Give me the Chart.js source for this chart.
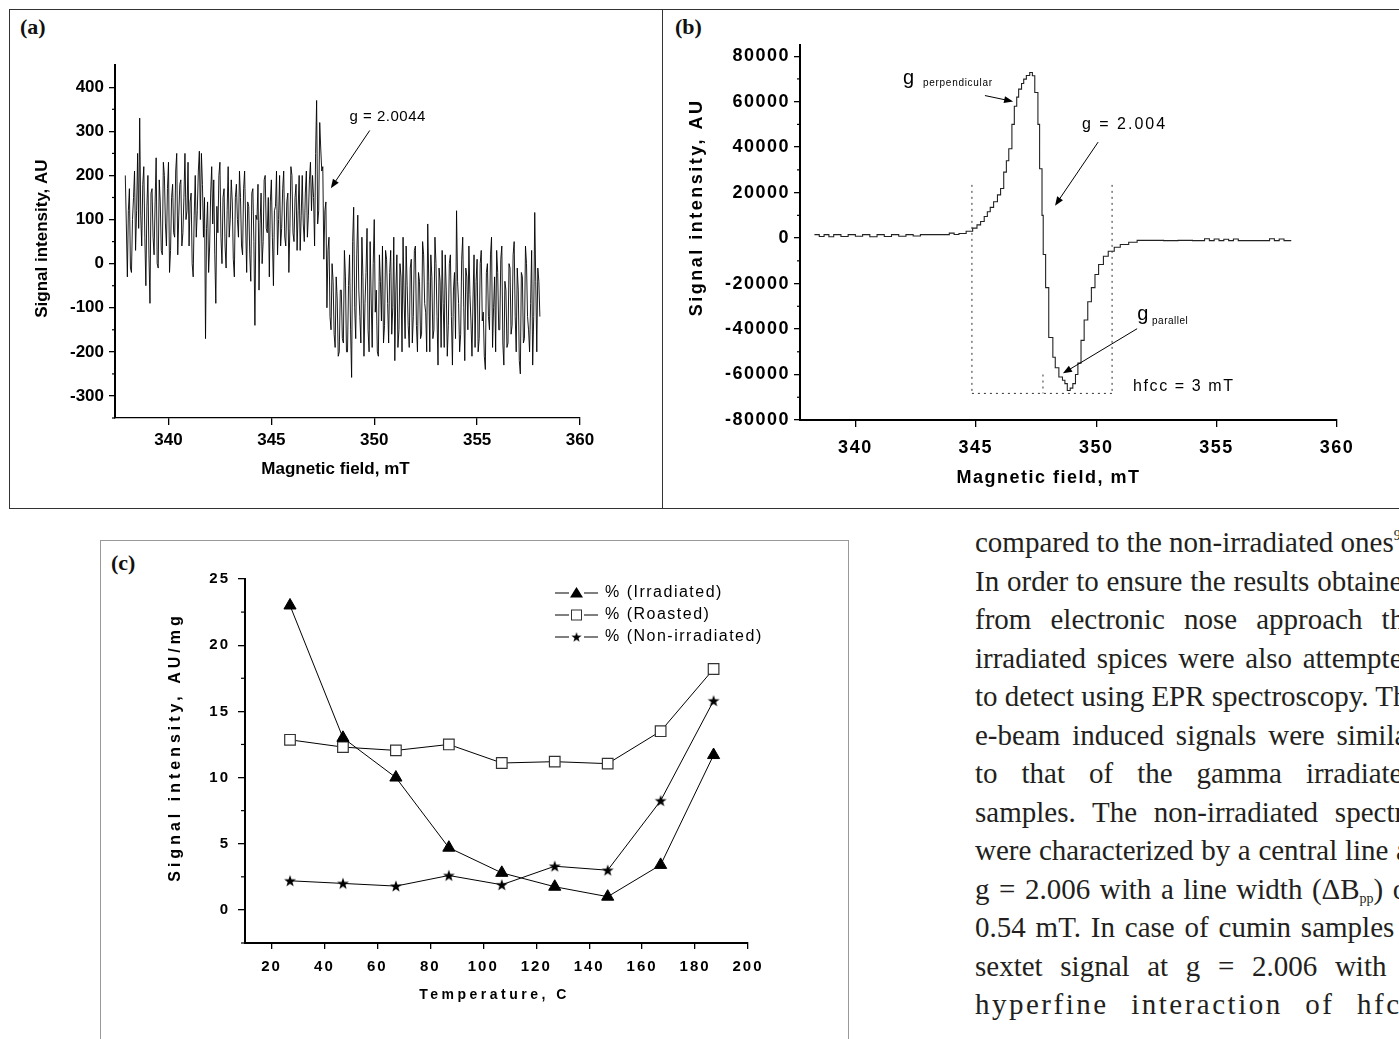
<!DOCTYPE html>
<html>
<head>
<meta charset="utf-8">
<title>EPR spectra and signal intensity</title>
<script src="https://cdn.jsdelivr.net/npm/chart.js"></script>
<style>
  html, body { margin: 0; padding: 0; background: #fff; width: 1399px; height: 1039px; overflow: hidden; }
  .frame { position: absolute; box-sizing: border-box; }
  #topFrame { left: 9px; top: 9px; width: 1400px; height: 500px; border: 1px solid #333; }
  #divider { left: 662px; top: 9px; width: 1px; height: 500px; background: #333; }
  #boxC { left: 100px; top: 540px; width: 749px; height: 540px; border: 1px solid #999; }
  .tag { position: absolute; font-family: 'Liberation Serif', serif; font-weight: bold; font-size: 22px; color: #111; }
  canvas { position: absolute; }
  #chartA { left: 20px; top: 50px; }
  #chartB { left: 670px; top: 30px; }
  #chartC { left: 105px; top: 555px; }
  #text { position: absolute; left: 975px; top: 523px; width: 442px;
          font-family: 'Liberation Serif', serif; font-size: 29px; line-height: 38.5px; color: #231f20; }
  #text div { white-space: nowrap; text-align: justify; text-align-last: justify; }
  #text div.first { text-align-last: left; }
  #text div.spaced { letter-spacing: 2.5px; }
  #text sup { font-size: 14px; vertical-align: 12px; line-height: 0; }
  #text sub { font-size: 14px; vertical-align: -4px; line-height: 0; }
</style>
</head>
<body>
<div class="frame" id="topFrame"></div>
<div class="frame" id="divider"></div>
<div class="frame" id="boxC"></div>
<div class="tag" style="left:20px; top:14px;">(a)</div>
<div class="tag" style="left:675px; top:14px;">(b)</div>
<div class="tag" style="left:111px; top:550px;">(c)</div>

<canvas id="chartA" width="620" height="450"></canvas>
<canvas id="chartB" width="720" height="470"></canvas>
<canvas id="chartC" width="735" height="470"></canvas>

<div id="text">
  <div class="first">compared to the non-irradiated ones<sup>9</sup>.</div>
  <div>In order to ensure the results obtained</div>
  <div>from electronic nose approach the</div>
  <div>irradiated spices were also attempted</div>
  <div>to detect using EPR spectroscopy. The</div>
  <div>e-beam induced signals were similar</div>
  <div>to that of the gamma irradiated</div>
  <div>samples. The non-irradiated spectra</div>
  <div>were characterized by a central line at</div>
  <div>g = 2.006 with a line width (&Delta;B<sub>pp</sub>) of</div>
  <div>0.54 mT. In case of cumin samples a</div>
  <div>sextet signal at g = 2.006 with a</div>
  <div class="spaced">hyperfine interaction of hfcc</div>
</div>

<script>
// ---- (a) EPR spectrum, sampled every 0.05 mT from 337.9 mT
const fieldStartA = 337.9;
const fieldStepA = 0.05;
const signalA = [
  200, 90, -30, 120, 170, -10, -20, 100, 150, 210, 30, 120, 250, 80, 330, 110, 40, 180, 220, 60,
  -50, 130, 200, 20, -90, 160, 170, 60, 20, 140, 240, 0, -10, 190, 140, 30, 20, 230, 200, 90,
  40, 170, 230, -20, 30, 150, 180, 70, 60, 210, 250, 20, 110, 180, 190, 40, 70, 150, 250, 100,
  120, 230, 40, 140, 160, 0, -30, 110, 200, 60, 120, 210, 255, 100, 250, 180, 60, 150, -170, 80,
  140, -20, 40, 160, 220, 90, 190, 20, -90, 130, 70, 200, 230, 60, 0, 150, 170, 40, -10, 120,
  220, 60, 100, 190, 140, 10, -30, 150, 180, 100, 60, 210, 150, 40, 20, 170, 210, 90, -20, 140,
  130, 20, -40, 160, 170, 50, -140, 110, 100, 180, -60, 90, 160, 0, 50, 190, 200, 80, 70, 150,
  -30, 140, 190, 60, -50, 120, 130, 210, 20, 100, 200, 40, 80, 170, 210, 60, 40, 140, 160, -20,
  80, 220, 200, 70, 50, 150, 180, 30, 120, 200, 30, 110, 200, 90, 50, 160, 210, 60, 110, 190,
  230, 120, 200, 150, 40, 250, 370, 90, 120, 320, 260, 210, 220, 10, 120, 140, -100, 30, 60, -120,
  -150, 0, -40, -160, -190, -30, -80, -210, -200, -60, -60, -170, -180, 30, -30, -200, -200, -50, 20, -150,
  -258, 50, 128, -100, -170, 20, 110, -60, -120, -180, 60, -30, -210, -90, -20, 80, -150, -200, 50, -80,
  -190, 0, 100, -110, -60, -200, -210, 20, -40, -130, 40, -180, -140, 30, 10, -90, -180, -20, 30, -160,
  -100, 60, -220, -60, 20, -190, -150, 0, -30, -200, 60, -80, -170, 40, -50, -140, -190, -10, 10, -180,
  -120, 30, 40, -140, -200, -20, -40, -170, -160, 50, 20, -90, -110, -200, 90, -40, -200, 20, -30, -170,
  -150, 60, 0, -120, -230, -10, -40, -190, 30, -90, -190, 20, -60, -210, -140, 0, 20, -120, -230, -60,
  -20, -170, 120, -40, -90, -200, -160, 10, 60, -100, -220, -10, -30, -150, 40, -70, -130, -210, -80, 20,
  -190, -40, 10, -200, -170, 0, 30, -130, -110, -210, -240, -20, 0, -120, -150, 20, 60, -190, -100, -30,
  -200, 30, -20, -150, -150, 10, 40, -180, -230, -40, -60, -190, -180, 0, -10, -160, -140, 20, 50, -120,
  -200, -10, -60, -220, -250, -20, -30, -180, -170, 40, 0, -120, -150, -200, -90, 30, -230, -120, 116, -40,
  -200, -10, -40, -120
];
const xTicksA = [340, 345, 350, 355, 360];
const yTicksA = [-300, -200, -100, 0, 100, 200, 300, 400];
const yMinorA = [-350, -250, -150, -50, 50, 150, 250, 350];

// ---- (b) EPR spectrum of the irradiated sample
const fieldB = [
  338.3, 338.5, 338.7, 338.9, 339.1, 339.4, 339.7, 340.0, 340.3, 340.6,
  340.9, 341.2, 341.5, 341.8, 342.1, 342.4, 342.7, 343.2, 343.7, 343.9,
  344.1, 344.3, 344.6, 344.87, 345.05, 345.2, 345.35, 345.48, 345.6, 345.74,
  345.9, 346.03, 346.16, 346.27, 346.37, 346.5, 346.6, 346.7, 346.78, 346.9,
  346.99, 347.1, 347.24, 347.35, 347.45, 347.58, 347.65, 347.75, 347.8, 347.9,
  348.03, 348.2, 348.3, 348.45, 348.6, 348.7, 348.8, 348.92, 349.03, 349.14,
  349.24, 349.37, 349.5, 349.65, 349.8, 349.95, 350.1, 350.3, 350.5, 350.75,
  351.0, 351.35, 351.7, 352.2, 352.8, 353.4, 354.0, 354.5, 354.7, 354.9,
  355.1, 355.3, 355.5, 355.7, 355.9, 356.5, 356.9, 357.2, 357.4, 357.6,
  357.8, 358.1
];
const signalB = [
  1500, 700, 1500, 600, 1500, 700, 1500, 800, 1500, 600,
  1500, 700, 1500, 800, 1500, 900, 1500, 1500, 1500, 2200,
  1600, 2000, 3000, 4400, 5800, 7300, 9500, 11600, 13500, 16000,
  19000, 21800, 29000, 34000, 39300, 50000, 58000, 62000, 65500, 68000,
  69900, 71500, 72800, 71400, 64000, 50000, 30500, 10000, -7200, -21800,
  -43700, -52400, -57000, -61100, -62500, -64000, -67000, -66000, -64000, -60000,
  -55000, -45000, -36000, -28000, -21800, -16000, -11600, -8000, -5800, -4000,
  -2800, -1800, -1000, -1000, -1100, -1000, -1100, -300, -1100, -400,
  -1100, -500, -1100, -400, -1100, -1100, -1100, -300, -1100, -400,
  -1100, -1100
];
const xTicksB = [340, 345, 350, 355, 360];
const yTicksB = [-80000, -60000, -40000, -20000, 0, 20000, 40000, 60000, 80000];
const yMinorB = [-70000, -50000, -30000, -10000, 10000, 30000, 50000, 70000];

// ---- (c) signal intensity vs temperature
const temperature = [27, 47, 67, 87, 107, 127, 147, 167, 187];
const irradiated = [23.0, 13.0, 10.0, 4.7, 2.8, 1.75, 1.0, 3.4, 11.7];
const roasted = [12.85, 12.3, 12.05, 12.5, 11.1, 11.2, 11.05, 13.5, 18.2];
const nonIrradiated = [2.2, 2.0, 1.8, 2.6, 1.9, 3.3, 3.0, 8.25, 15.8];
const seriesNamesC = ['% (Irradiated)', '% (Roasted)', '% (Non-irradiated)'];
const xTicksC = [20, 40, 60, 80, 100, 120, 140, 160, 180, 200];
const yTicksC = [0, 5, 10, 15, 20, 25];
const yMinorC = [-2.5, 2.5, 7.5, 12.5, 17.5, 22.5];

const SANS = "'Liberation Sans', Arial, sans-serif";

// small filled star used as a marker
const starImg = (() => {
  const c = document.createElement('canvas');
  c.width = c.height = 14;
  const g = c.getContext('2d');
  g.fillStyle = '#000';
  g.beginPath();
  for (let i = 0; i < 10; i++) {
    const r = i % 2 ? 2.5 : 6.2;
    const a = -Math.PI / 2 + i * Math.PI / 5;
    g.lineTo(7 + r * Math.cos(a), 7.4 + r * Math.sin(a));
  }
  g.closePath();
  g.fill();
  return c;
})();

function axis(o) {
  return {
    type: 'linear', min: o.min, max: o.max,
    afterBuildTicks: s => { s.ticks = o.ticks.map(v => ({ value: v })); },
    afterFit: s => { if (s.isHorizontal()) s.height = o.size; else s.width = o.size; },
    border: { display: true, color: '#000', width: o.border },
    grid: { drawOnChartArea: false, drawTicks: true, tickLength: o.tickLen, color: '#000', lineWidth: 1.3 },
    ticks: { color: '#000', padding: o.pad, autoSkip: false, maxRotation: 0, font: o.font, callback: v => String(v) }
  };
}

function drawText(ctx, str, x, y, font, spacing, align) {
  ctx.save();
  ctx.font = font;
  ctx.letterSpacing = (spacing || 0) + 'px';
  ctx.fillStyle = '#000';
  ctx.textAlign = align || 'left';
  ctx.textBaseline = 'middle';
  ctx.fillText(str, x, y);
  ctx.restore();
}

function drawArrow(ctx, x1, y1, x2, y2) {
  const ang = Math.atan2(y2 - y1, x2 - x1), L = 9, W = 3.5;
  ctx.beginPath();
  ctx.moveTo(x1, y1);
  ctx.lineTo(x2 - Math.cos(ang) * L * 0.8, y2 - Math.sin(ang) * L * 0.8);
  ctx.stroke();
  ctx.beginPath();
  ctx.moveTo(x2, y2);
  ctx.lineTo(x2 - L * Math.cos(ang) + W * Math.sin(ang), y2 - L * Math.sin(ang) - W * Math.cos(ang));
  ctx.lineTo(x2 - L * Math.cos(ang) - W * Math.sin(ang), y2 - L * Math.sin(ang) + W * Math.cos(ang));
  ctx.closePath();
  ctx.fill();
}

function drawMarker(ctx, kind, x, y) {
  ctx.save();
  ctx.lineWidth = 1;
  if (kind === 'triangle') {
    ctx.fillStyle = '#000';
    ctx.beginPath();
    ctx.moveTo(x, y - 6); ctx.lineTo(x + 6.5, y + 4.5); ctx.lineTo(x - 6.5, y + 4.5);
    ctx.closePath(); ctx.fill();
  } else if (kind === 'square') {
    ctx.fillStyle = '#fff'; ctx.strokeStyle = '#333';
    ctx.fillRect(x - 5, y - 5, 10, 10);
    ctx.strokeRect(x - 5, y - 5, 10, 10);
  } else {
    ctx.drawImage(starImg, x - 6, y - 6, 12, 12);
  }
  ctx.restore();
}

// axis titles, minor ticks, annotations and legend
function decor(cfg) {
  return {
    id: 'decor',
    beforeLayout(chart) { chart.ctx.letterSpacing = (cfg.tickSpacing || 0) + 'px'; },
    beforeDraw(chart) { chart.ctx.letterSpacing = (cfg.tickSpacing || 0) + 'px'; },
    afterDraw(chart) {
      const ctx = chart.ctx, a = chart.chartArea;
      const sx = chart.scales.x, sy = chart.scales.y;
      const X = v => sx.getPixelForValue(v), Y = v => sy.getPixelForValue(v);
      ctx.save();
      ctx.strokeStyle = '#000';
      ctx.fillStyle = '#000';
      ctx.lineWidth = 1.2;

      (cfg.minorY || []).forEach(v => {
        const y = Y(v);
        ctx.beginPath(); ctx.moveTo(a.left - cfg.minorLen, y); ctx.lineTo(a.left, y); ctx.stroke();
      });

      ctx.lineWidth = 1;
      (cfg.guides || []).forEach(g => {
        ctx.save();
        ctx.setLineDash([2, 4]);
        ctx.strokeStyle = '#333';
        ctx.beginPath(); ctx.moveTo(X(g[0]), Y(g[1])); ctx.lineTo(X(g[2]), Y(g[3])); ctx.stroke();
        ctx.restore();
      });

      (cfg.arrows || []).forEach(r => drawArrow(ctx, X(r[0]), Y(r[1]), X(r[2]), Y(r[3])));
      (cfg.notes || []).forEach(n => drawText(ctx, n.text, X(n.x), Y(n.y), n.font, n.spacing, 'left'));

      const xt = cfg.xTitle, yt = cfg.yTitle;
      drawText(ctx, xt.text, (a.left + a.right) / 2 + xt.dx, a.bottom + xt.dy, xt.font, xt.spacing, 'center');
      ctx.save();
      ctx.translate(a.left + yt.dx, (a.top + a.bottom) / 2 + yt.dy);
      ctx.rotate(-Math.PI / 2);
      drawText(ctx, yt.text, 0, 0, yt.font, yt.spacing, 'center');
      ctx.restore();

      if (cfg.legend) {
        const L = cfg.legend;
        L.items.forEach((it, i) => {
          const lx = a.left + L.dx, ly = a.top + L.dy + i * L.gap;
          ctx.lineWidth = 1;
          ctx.beginPath();
          ctx.moveTo(lx, ly); ctx.lineTo(lx + 14, ly);
          ctx.moveTo(lx + 29, ly); ctx.lineTo(lx + 43, ly);
          ctx.stroke();
          drawMarker(ctx, it.marker, lx + 21.5, ly);
          drawText(ctx, it.label, lx + 50, ly, L.font, L.spacing, 'left');
        });
      }
      ctx.restore();
    }
  };
}

function makeChart(id, pad, datasets, scales, deco) {
  return new Chart(document.getElementById(id), {
    type: 'scatter',
    data: { datasets },
    options: {
      responsive: false, animation: false, events: [], devicePixelRatio: 1,
      layout: { autoPadding: false, padding: pad },
      scales,
      plugins: { legend: { display: false }, tooltip: { enabled: false } }
    },
    plugins: [decor(deco)]
  });
}

// (a)
makeChart('chartA', { left: 0, top: 15, right: 60, bottom: 0 },
  [{
    data: signalA.map((v, i) => ({ x: fieldStartA + i * fieldStepA, y: v })),
    showLine: true, borderColor: '#000', borderWidth: 0.9, pointRadius: 0
  }],
  {
    x: axis({ min: 337.4, max: 360, ticks: xTicksA, size: 82, border: 1.3, tickLen: 7, pad: 5,
              font: { family: SANS, size: 17, weight: 'bold' } }),
    y: axis({ min: -350, max: 450, ticks: yTicksA, size: 95, border: 2, tickLen: 6, pad: 5,
              font: { family: SANS, size: 17, weight: 'bold' } })
  },
  {
    tickSpacing: 0, minorY: yMinorA, minorLen: 3,
    xTitle: { text: 'Magnetic field, mT', dx: -12, dy: 51, font: 'bold 17px ' + SANS, spacing: 0 },
    yTitle: { text: 'Signal intensity, AU', dx: -73, dy: -3, font: 'bold 17px ' + SANS, spacing: 0 },
    notes: [{ text: 'g = 2.0044', x: 348.8, y: 332, font: '15px ' + SANS, spacing: 0.5 }],
    arrows: [[349.78, 302, 347.89, 171]]
  });

// (b)
makeChart('chartB', { left: 0, top: 12, right: 53, bottom: 0 },
  [{
    data: fieldB.map((f, i) => ({ x: f, y: signalB[i] })),
    showLine: true, stepped: true, borderColor: '#222', borderWidth: 1.1, pointRadius: 0
  }],
  {
    x: axis({ min: 337.7, max: 360, ticks: xTicksB, size: 80, border: 2, tickLen: 7, pad: 10,
              font: { family: SANS, size: 18, weight: 'bold' } }),
    y: axis({ min: -80000, max: 85000, ticks: yTicksB, size: 130, border: 2, tickLen: 6, pad: 4,
              font: { family: SANS, size: 18, weight: 'bold' } })
  },
  {
    tickSpacing: 1.5, minorY: yMinorB, minorLen: 3,
    xTitle: { text: 'Magnetic field, mT', dx: -20, dy: 58, font: 'bold 18px ' + SANS, spacing: 1.5 },
    yTitle: { text: 'Signal intensity, AU', dx: -103, dy: -25, font: 'bold 18px ' + SANS, spacing: 2.5 },
    notes: [
      { text: 'g', x: 341.98, y: 70150, font: '20px ' + SANS, spacing: 0 },
      { text: 'perpendicular', x: 342.81, y: 67960, font: '10px ' + SANS, spacing: 0.7 },
      { text: 'g = 2.004', x: 349.41, y: 50070, font: '16px ' + SANS, spacing: 2 },
      { text: 'g', x: 351.7, y: -33740, font: '20px ' + SANS, spacing: 0 },
      { text: 'parallel', x: 352.32, y: -36360, font: '10px ' + SANS, spacing: 0.5 },
      { text: 'hfcc = 3 mT', x: 351.53, y: -65170, font: '16px ' + SANS, spacing: 1.6 }
    ],
    arrows: [
      [345.38, 62680, 346.55, 60070],
      [350.08, 42210, 348.29, 14270],
      [351.7, -39850, 348.62, -59490]
    ],
    guides: [
      [344.84, 23400, 344.84, -68300],
      [350.66, 23400, 350.66, -68300],
      [347.79, -60000, 347.79, -68300],
      [344.84, -68300, 350.66, -68300]
    ]
  });

// (c)
makeChart('chartC', { left: 0, top: 24, right: 92, bottom: 0 },
  [
    {
      data: temperature.map((t, i) => ({ x: t, y: irradiated[i] })),
      showLine: true, borderColor: '#000', borderWidth: 1,
      pointStyle: 'triangle', pointRadius: 7, pointBackgroundColor: '#000', pointBorderColor: '#000'
    },
    {
      data: temperature.map((t, i) => ({ x: t, y: roasted[i] })),
      showLine: true, borderColor: '#000', borderWidth: 1,
      pointStyle: 'rect', pointRadius: 7.5, pointBackgroundColor: '#fff', pointBorderColor: '#333', pointBorderWidth: 1.2
    },
    {
      data: temperature.map((t, i) => ({ x: t, y: nonIrradiated[i] })),
      showLine: true, borderColor: '#000', borderWidth: 1,
      pointStyle: starImg, pointRadius: 7
    }
  ],
  {
    x: axis({ min: 10, max: 200, ticks: xTicksC, size: 82, border: 2, tickLen: 6, pad: 9,
              font: { family: SANS, size: 15, weight: 'bold' } }),
    y: axis({ min: -2.5, max: 25, ticks: yTicksC, size: 140, border: 2, tickLen: 7, pad: 8,
              font: { family: SANS, size: 15, weight: 'bold' } })
  },
  {
    tickSpacing: 2, minorY: yMinorC, minorLen: 4,
    xTitle: { text: 'Temperature, C', dx: -2, dy: 52, font: 'bold 14px ' + SANS, spacing: 3.5 },
    yTitle: { text: 'Signal intensity, AU/mg', dx: -69, dy: -14, font: 'bold 16px ' + SANS, spacing: 4 },
    legend: {
      dx: 310, dy: 14, gap: 22, font: '16px ' + SANS, spacing: 1.5,
      items: [
        { label: seriesNamesC[0], marker: 'triangle' },
        { label: seriesNamesC[1], marker: 'square' },
        { label: seriesNamesC[2], marker: 'star' }
      ]
    }
  });
</script>
</body>
</html>
